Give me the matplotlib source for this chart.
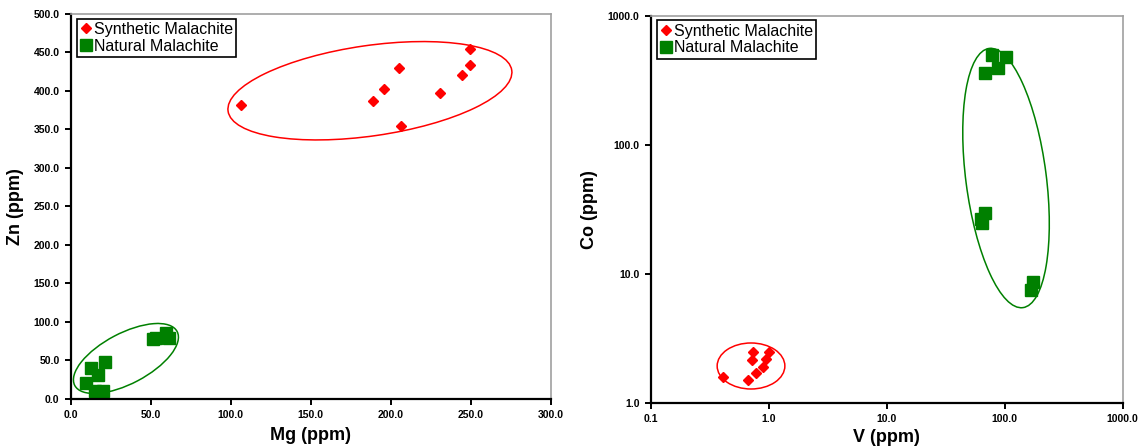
import matplotlib

matplotlib.use("Agg")
import matplotlib.pyplot as plt
from matplotlib.patches import Ellipse
from matplotlib.transforms import ScaledTranslation

plt.rcParams["font.family"] = ["Liberation Sans", "DejaVu Sans"]

# left panel: Mg vs Zn
syn_mg = [106.3, 188.9, 195.8, 205.2, 206.6, 231.0, 244.6, 249.6, 249.6]
syn_zn = [382.0, 387.0, 402.0, 430.0, 355.0, 397.0, 421.0, 434.0, 454.0]
nat_mg = [9.4, 12.5, 17.3, 21.6, 15.4, 20.0, 51.3, 53.3, 59.6, 61.6]
nat_zn = [20.8, 40.6, 31.2, 48.4, 10.0, 10.0, 77.5, 78.8, 85.3, 78.8]

# right panel: V vs Co (log-log)
syn_v = [0.41, 0.67, 0.78, 0.74, 0.72, 0.90, 0.94, 1.00]
syn_co = [1.61, 1.51, 1.71, 2.51, 2.15, 1.90, 2.21, 2.51]
nat_v = [78.5, 102.6, 87.3, 67.7, 68.1, 63.0, 64.2, 172.7, 167.0]
nat_co = [496.0, 481.0, 396.0, 362.0, 29.5, 26.7, 24.9, 8.73, 7.53]

mg_ticks = [0, 50, 100, 150, 200, 250, 300]
zn_ticks = [0, 50, 100, 150, 200, 250, 300, 350, 400, 450, 500]
v_ticks = [0.1, 1, 10, 100, 1000]
co_ticks = [1, 10, 100, 1000]

labels = ["Synthetic Malachite", "Natural Malachite"]

RED = "#ff0000"
GREEN = "#008000"


def _ring(fig, ax, cx, cy, w_px, h_px, angle, color):
    # group outline, sized in pixels around a data-space centre
    trans = fig.dpi_scale_trans + ScaledTranslation(cx, cy, ax.transData)
    ax.add_patch(Ellipse((0, 0), w_px / fig.dpi, h_px / fig.dpi, angle=angle,
                         transform=trans, fill=False, edgecolor=color, linewidth=1.1))


def _style(ax, xlabel, ylabel, xticks, yticks, fmt, xpad):
    for side in ["top", "right"]:
        ax.spines[side].set_color("#a0a0a0")
        ax.spines[side].set_linewidth(1.2)
    for side in ["left", "bottom"]:
        ax.spines[side].set_color("black")
        ax.spines[side].set_linewidth(1.6)
    ax.set_xticks(xticks, [fmt(t) for t in xticks])
    ax.set_yticks(yticks, [fmt(t) for t in yticks])
    ax.minorticks_off()
    ax.tick_params(direction="out", length=4, width=1.4, labelsize=7.5, pad=4)
    for lab in ax.get_xticklabels() + ax.get_yticklabels():
        lab.set_fontweight("bold")
    ax.set_xlabel(xlabel, fontsize=13, fontweight="bold", labelpad=xpad)
    ax.set_ylabel(ylabel, fontsize=13, fontweight="bold", labelpad=7)
    leg = ax.legend(labels, loc="upper left", bbox_to_anchor=(0.013, 0.988), borderaxespad=0,
                    fontsize=11.5, handlelength=0.7, handletextpad=0.15, borderpad=0.2,
                    labelspacing=0.12, fancybox=False, framealpha=1, edgecolor="black")
    leg.get_frame().set_linewidth(1.2)


def main() -> None:
    fig = plt.figure(figsize=(11.39, 4.48), dpi=100)

    ax1 = fig.add_axes([0.0621, 0.1094, 0.4214, 0.8594])
    ax1.plot(syn_mg, syn_zn, "D", color=RED, markersize=5, linestyle="none")
    ax1.plot(nat_mg, nat_zn, "s", color=GREEN, markersize=8, linestyle="none")
    ax1.set_xlim(0, 300)
    ax1.set_ylim(0, 500)
    _style(ax1, "Mg (ppm)", "Zn (ppm)", mg_ticks, zn_ticks, lambda t: f"{t:.1f}", 5)
    _ring(fig, ax1, 187.0, 400.3, 286.6, 90.4, 8.2, RED)
    _ring(fig, ax1, 34.5, 52.6, 115.7, 50.4, 27.8, GREEN)

    ax2 = fig.add_axes([0.5713, 0.0998, 0.4144, 0.8652])
    ax2.plot(syn_v, syn_co, "D", color=RED, markersize=5, linestyle="none")
    ax2.plot(nat_v, nat_co, "s", color=GREEN, markersize=8, linestyle="none")
    ax2.set_xscale("log")
    ax2.set_yscale("log")
    ax2.set_xlim(0.1, 1000)
    ax2.set_ylim(1, 1000)
    _style(ax2, "V (ppm)", "Co (ppm)", v_ticks, co_ticks, lambda t: f"{t:.1f}", 3)
    _ring(fig, ax2, 0.708, 1.944, 67.7, 46.0, 0, RED)
    _ring(fig, ax2, 102.6, 55.4, 80.4, 261.4, 7.4, GREEN)

    fig.savefig("out.png", dpi=100)
    plt.close(fig)


if __name__ == "__main__":
    main()
